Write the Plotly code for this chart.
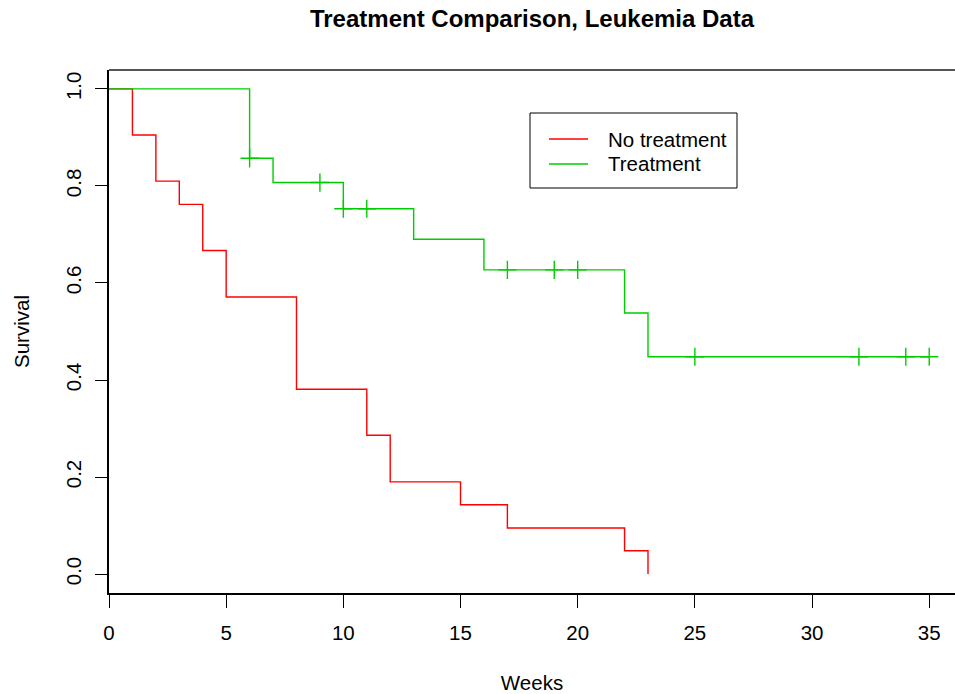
import plotly.graph_objects as go

# Kaplan-Meier estimates (Gehan leukemia data)
ctrl_time = [0, 1, 2, 3, 4, 5, 8, 11, 12, 15, 17, 22, 23]
ctrl_surv = [1.0, 0.905, 0.810, 0.762, 0.667, 0.571, 0.381, 0.286, 0.190, 0.143, 0.095, 0.048, 0.0]

trt_time = [0, 6, 7, 10, 13, 16, 22, 23, 35]
trt_surv = [1.0, 0.857, 0.807, 0.753, 0.690, 0.627, 0.538, 0.448, 0.448]

cens_time = [6, 9, 10, 11, 17, 19, 20, 25, 32, 34, 35]
cens_surv = [0.857, 0.807, 0.753, 0.753, 0.627, 0.627, 0.627, 0.448, 0.448, 0.448, 0.448]

x_ticks = [0, 5, 10, 15, 20, 25, 30, 35]
y_ticks = [0.0, 0.2, 0.4, 0.6, 0.8, 1.0]
y_tick_text = ["0.0", "0.2", "0.4", "0.6", "0.8", "1.0"]

legend_names = ["No treatment", "Treatment"]

RED = "#FF0000"
GREEN = "#00CD00"
FONT = "Liberation Sans, Arial, sans-serif"
FS = 20.5

W, H = 955, 694
L, R, T, B = 109, 0, 70, 101
PW, PH = W - L - R, H - T - B


def px_x(p):
    return (p - L) / PW


def px_y(p):
    return (H - B - p) / PH


fig = go.Figure()
fig.add_trace(go.Scatter(x=ctrl_time, y=ctrl_surv, mode="lines", line_shape="hv",
                         line=dict(color=RED, width=1.4), name=legend_names[0], showlegend=False))
fig.add_trace(go.Scatter(x=trt_time, y=trt_surv, mode="lines", line_shape="hv",
                         line=dict(color=GREEN, width=1.4), name=legend_names[1], showlegend=False))
fig.add_trace(go.Scatter(x=cens_time, y=cens_surv, mode="markers", showlegend=False,
                         marker=dict(symbol="cross-thin", size=13,
                                     line=dict(color=GREEN, width=1.4))))

# manual legend (R-style box)
shapes = [
    dict(type="line", xref="paper", yref="paper", x0=0, x1=1, y0=1, y1=1,
         line=dict(color="#555555", width=2)),
    dict(type="rect", xref="paper", yref="paper", x0=px_x(530), x1=px_x(737),
         y0=px_y(188), y1=px_y(113), line=dict(color="black", width=1), fillcolor="white",
         layer="above"),
]
annotations = []
for i, (nm, col) in enumerate(zip(legend_names, [RED, GREEN])):
    yy = 139 + 25 * i
    shapes.append(dict(type="line", xref="paper", yref="paper", x0=px_x(549), x1=px_x(588),
                       y0=px_y(yy), y1=px_y(yy), line=dict(color=col, width=1.4), layer="above"))
    annotations.append(dict(text=nm, xref="paper", yref="paper", x=px_x(606), y=px_y(yy),
                            xanchor="left", yanchor="middle", showarrow=False,
                            font=dict(size=FS, family=FONT, color="black")))

fig.update_layout(
    width=W, height=H,
    margin=dict(l=L, r=R, t=T, b=B),
    paper_bgcolor="white", plot_bgcolor="white",
    font=dict(family=FONT, size=FS, color="black"),
    title=dict(text="<b>Treatment Comparison, Leukemia Data</b>", x=(L + W) / 2 / W,
               xanchor="center", y=1 - 19 / H, yanchor="middle",
               font=dict(size=24, family=FONT)),
    xaxis=dict(range=[0, 36.1], tickvals=x_ticks, showgrid=False, zeroline=False,
               showline=True, linecolor="black", linewidth=1.5,
               ticks="outside", ticklen=13, tickcolor="black", tickwidth=1,
               ticklabelstandoff=8,
               title=dict(text="Weeks", standoff=33, font=dict(size=FS))),
    yaxis=dict(range=[-0.039, 1.039], tickvals=y_ticks, ticktext=y_tick_text,
               tickangle=-90, showgrid=False, zeroline=False,
               showline=True, linecolor="black", linewidth=1.5,
               ticks="outside", ticklen=12, tickcolor="black", tickwidth=1,
               ticklabelstandoff=6,
               title=dict(text="Survival", standoff=27, font=dict(size=FS))),
    shapes=shapes,
    annotations=annotations,
)

fig.write_html("out.html")
